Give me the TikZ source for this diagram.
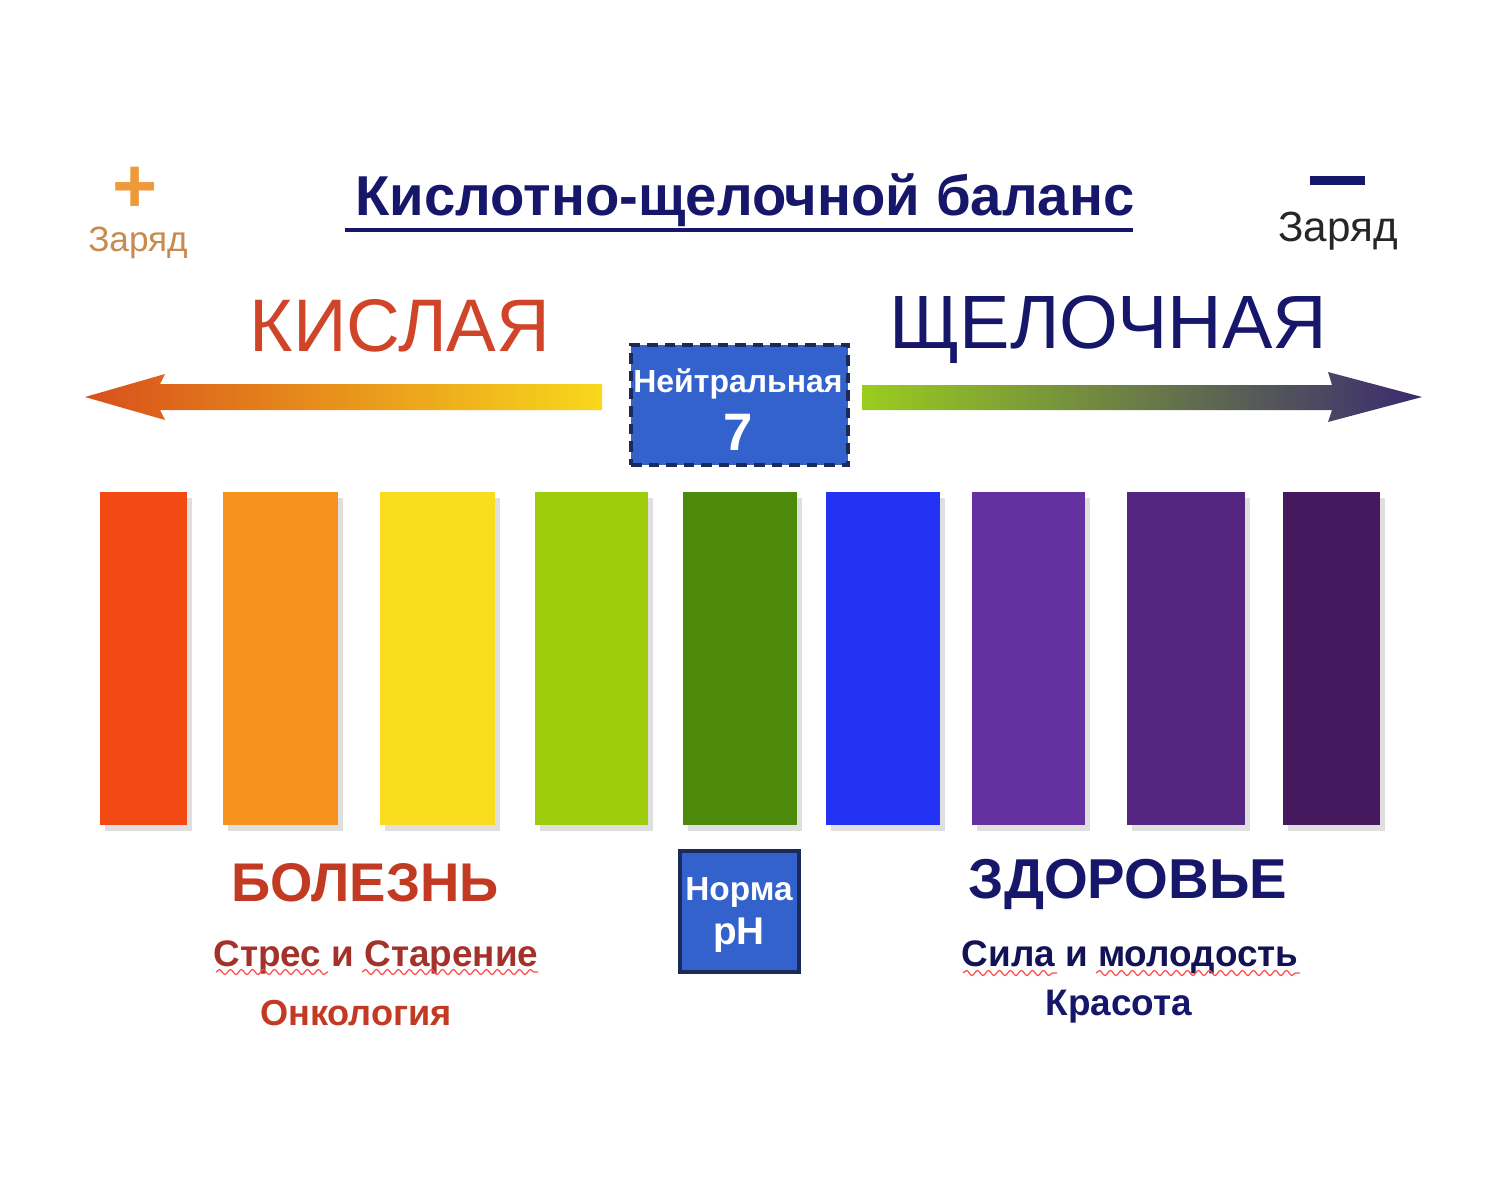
\documentclass[tikz,border=0pt]{standalone}
\usepackage{fontspec}
\setmainfont{Liberation Sans}
\usetikzlibrary{positioning}
\usetikzlibrary{shadows}
\usetikzlibrary{decorations.pathmorphing}
\usetikzlibrary{calc}

\definecolor{navyblue}{HTML}{16166A}
\definecolor{acidred}{HTML}{D0442A}
\definecolor{diseasered}{HTML}{C23A22}
\definecolor{stressred}{HTML}{A3322A}
\definecolor{plusorange}{HTML}{EE9A3A}
\definecolor{chargeorange}{HTML}{C98A50}
\definecolor{boxblue}{HTML}{3462CC}
\definecolor{boxedge}{HTML}{1C2A5A}
\definecolor{barA}{HTML}{F24A12}
\definecolor{barB}{HTML}{F8921E}
\definecolor{barC}{HTML}{FADC1E}
\definecolor{barD}{HTML}{9CCC0A}
\definecolor{barE}{HTML}{4D8A0C}
\definecolor{barF}{HTML}{2432F4}
\definecolor{barG}{HTML}{6530A0}
\definecolor{barH}{HTML}{552582}
\definecolor{barI}{HTML}{46185E}
\definecolor{arrowA}{HTML}{D8501C}
\definecolor{arrowB}{HTML}{F2AC20}
\definecolor{arrowC}{HTML}{F8D81C}
\definecolor{arrowD}{HTML}{9ACD1E}
\definecolor{arrowE}{HTML}{5C8A40}
\definecolor{arrowF}{HTML}{3A2A70}

\tikzset{
phbar/.style={
	rectangle,
	minimum height=33.3mm,
	inner sep=0pt,
	draw=none,
	drop shadow={shadow xshift=0.5mm, shadow yshift=-0.6mm, fill=gray!35, opacity=0.7}
},
phbox/.style={
	rectangle,
	fill=boxblue,
	draw=boxedge,
	line width=0.9pt,
	inner sep=0pt
},
boxtext/.style={
	text=white,
	font=\bfseries,
	inner sep=0pt
},
heading/.style={
	inner sep=0pt,
	font=\bfseries
},
spellwave/.style={
	draw=red!70,
	line width=0.35pt,
	decorate,
	decoration={snake, amplitude=0.25mm, segment length=1.1mm}
}
}

\begin{document}
\begin{tikzpicture}[x=0.1mm, y=-0.1mm]

\useasboundingbox (0,0) rectangle (1500,1200);
\fill[white] (0,0) rectangle (1500,1200);

% charges
\node (plus) [inner sep=0pt, anchor=base, text height=0.62em, text depth=0pt, text=plusorange, font=\bfseries\fontsize{22}{22}\selectfont] at (135,213) {+};
\node (chargeL) [inner sep=0pt, text=chargeorange, font=\fontsize{10}{10}\selectfont] at (138,243) {Заряд};
\node (minus) [rectangle, fill=navyblue, minimum width=5.5mm, minimum height=0.9mm, inner sep=0pt] at (1337,181) {};
\node (chargeR) [inner sep=0pt, text=black!85, font=\fontsize{12}{12}\selectfont] at (1338,231) {Заряд};

% title
\node (title) [heading, text=navyblue, font=\bfseries\fontsize{16}{16}\selectfont] at (745,200) {Кислотно-щелочной баланс};
\draw [navyblue, line width=1.1pt] (345,230) -- (1133,230);

% acid / alkaline
\node (acid) [inner sep=0pt, text=acidred, font=\fontsize{21.2}{21.2}\selectfont] at (400,326) {КИСЛАЯ};
\node (alkali) [inner sep=0pt, text=navyblue, font=\fontsize{21.5}{21.5}\selectfont] at (1108,330) {ЩЕЛОЧНАЯ};

% arrows
\shade [left color=arrowA, middle color=arrowB, right color=arrowC]
	(85,397) -- (165,374) -- (160,384) -- (602,384) -- (602,410) -- (160,410) -- (165,420) -- cycle;
\shade [left color=arrowD, middle color=arrowE, right color=arrowF]
	(862,385) -- (1332,385) -- (1328,372) -- (1422,397) -- (1328,422) -- (1332,410) -- (862,410) -- cycle;

% neutral box
\node (neutral) [phbox, densely dashed, minimum width=21.7mm, minimum height=12mm] at (739.5,405) {};
\node (neutralLbl) [boxtext, font=\bfseries\fontsize{9.1}{9.1}\selectfont] at (738,384) {Нейтральная};
\node (seven) [boxtext, font=\bfseries\fontsize{15}{15}\selectfont] at (738,432) {7};

% pH bars
\foreach \name/\xl/\xr/\col in {b1/100/187/barA, b2/223/338/barB, b3/380/495/barC,
	b4/535/648/barD, b5/683/797/barE, b6/826/940/barF, b7/972/1085/barG,
	b8/1127/1245/barH, b9/1283/1380/barI} {
	\pgfmathsetmacro\barw{(\xr-\xl)*0.1}
	\node (\name) [phbar, fill=\col, minimum width=\barw mm] at ({(\xl+\xr)/2},658) {};
}

% norm box
\node (norm) [phbox, minimum width=11.9mm, minimum height=12.1mm] at (739.5,911.5) {};
\node (normLbl) [boxtext, font=\bfseries\fontsize{9.5}{9.5}\selectfont] at (739,892) {Норма};
\node (ph) [boxtext, font=\bfseries\fontsize{11}{11}\selectfont] at (739,935) {pH};

% disease side
\node (disease) [heading, text=diseasered, font=\bfseries\fontsize{15.5}{15.5}\selectfont] at (365,883) {БОЛЕЗНЬ};
\node (stress) [heading, text=stressred, font=\bfseries\fontsize{10.5}{10.5}\selectfont] at (376,957) {Стрес и Старение};
\node (onco) [heading, text=diseasered, font=\bfseries\fontsize{10.3}{10.3}\selectfont] at (356,1013) {Онкология};
\draw [spellwave] (216,972) -- (328,972);
\draw [spellwave] (362,972) -- (538,972);

% health side
\node (health) [heading, text=navyblue, font=\bfseries\fontsize{16}{16}\selectfont] at (1128,884) {ЗДОРОВЬЕ};
\node (strength) [heading, text=navyblue!80!black, font=\bfseries\fontsize{10.5}{10.5}\selectfont] at (1130,957) {Сила и молодость};
\node (beauty) [heading, text=navyblue, font=\bfseries\fontsize{10.5}{10.5}\selectfont] at (1119,1007) {Красота};
\draw [spellwave] (963,973) -- (1057,973);
\draw [spellwave] (1096,973) -- (1300,973);

\end{tikzpicture}
\end{document}
